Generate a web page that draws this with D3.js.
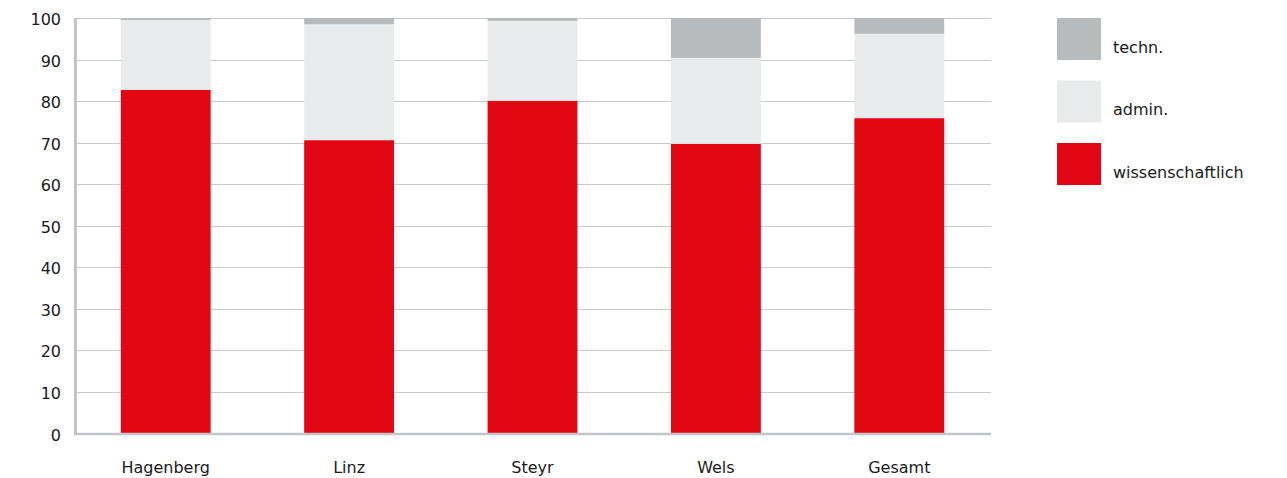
<!DOCTYPE html>
<html>
<head>
<meta charset="utf-8">
<script src="https://cdn.jsdelivr.net/npm/d3@7"></script>
<style>
  body { margin: 0; background: #fff; }
  text { font-family: "DejaVu Sans", sans-serif; fill: #1a1a1a; }
</style>
</head>
<body>
<div id="chartspace"></div>
<script>
var categories = ["Hagenberg", "Linz", "Steyr", "Wels", "Gesamt"];
var wissenschaftlich = [82.7, 70.6, 80.1, 69.7, 75.9];
var admin = [16.8, 27.9, 19.2, 20.7, 20.3];
var techn = [0.5, 1.5, 0.7, 9.6, 3.8];
var yTicks = [0, 10, 20, 30, 40, 50, 60, 70, 80, 90, 100];

var seriesNames = ["wissenschaftlich", "admin.", "techn."];
var seriesColors = ["#e30613", "#e9eaeb", "#b8bbbe"];

var rows = categories.map(function (c, i) {
    return { cat: c, "wissenschaftlich": wissenschaftlich[i], "admin.": admin[i], "techn.": techn[i] };
});

var width = 1287, height = 478;
var margin = { top: 18, right: 296, bottom: 44.5, left: 74 };

var svg = d3.select("#chartspace").append("svg")
    .attr("width", width)
    .attr("height", height);

var x = d3.scaleBand()
    .domain(categories)
    .range([margin.left, width - margin.right])
    .paddingInner(0.51)
    .paddingOuter(0.255);

var y = d3.scaleLinear()
    .domain([0, 100])
    .range([height - margin.bottom, margin.top]);

// grid lines
svg.append("g").selectAll("line")
    .data(yTicks.filter(function (t) { return t > 0; }))
    .enter().append("line")
    .attr("x1", margin.left)
    .attr("x2", width - margin.right)
    .attr("y1", function (d) { return Math.round(y(d)) + 0.5; })
    .attr("y2", function (d) { return Math.round(y(d)) + 0.5; })
    .attr("stroke", "#c9cacc")
    .attr("stroke-width", 1);

// stacked bars
var stack = d3.stack().keys(seriesNames);
var layers = stack(rows);

svg.append("g").selectAll("g")
    .data(layers)
    .enter().append("g")
    .attr("fill", function (d, i) { return seriesColors[i]; })
    .selectAll("rect")
    .data(function (d) { return d; })
    .enter().append("rect")
    .attr("x", function (d) { return x(d.data.cat); })
    .attr("width", x.bandwidth())
    .attr("y", function (d) { return y(d[1]); })
    .attr("height", function (d) { return y(d[0]) - y(d[1]); });

// axis lines
svg.append("line")
    .attr("x1", margin.left + 1.5).attr("x2", margin.left + 1.5)
    .attr("y1", margin.top).attr("y2", y(0) + 1.5)
    .attr("stroke", "#c3c6c9").attr("stroke-width", 3);

svg.append("line")
    .attr("x1", margin.left).attr("x2", width - margin.right)
    .attr("y1", y(0) + 0.5).attr("y2", y(0) + 0.5)
    .attr("stroke", "#c3c6c9").attr("stroke-width", 2.5);

// y tick labels
svg.append("g").selectAll("text")
    .data(yTicks)
    .enter().append("text")
    .attr("x", 61)
    .attr("y", function (d) { return y(d) + 7; })
    .attr("text-anchor", "end")
    .style("font-size", "16px")
    .text(function (d) { return d; });

// category labels
svg.append("g").selectAll("text")
    .data(categories)
    .enter().append("text")
    .attr("x", function (d) { return x(d) + x.bandwidth() / 2; })
    .attr("y", 473)
    .attr("text-anchor", "middle")
    .style("font-size", "16px")
    .text(function (d) { return d; });

// legend (top to bottom: techn., admin., wissenschaftlich)
var legendItems = seriesNames.map(function (n, i) { return { name: n, color: seriesColors[i] }; }).reverse();

var legend = svg.append("g").selectAll("g")
    .data(legendItems)
    .enter().append("g")
    .attr("transform", function (d, i) { return "translate(1057," + (18 + i * 62.5) + ")"; });

legend.append("rect")
    .attr("width", 44)
    .attr("height", 42)
    .attr("fill", function (d) { return d.color; });

legend.append("text")
    .attr("x", 56)
    .attr("y", 34.5)
    .style("font-size", "16px")
    .text(function (d) { return d.name; });
</script>
</body>
</html>
